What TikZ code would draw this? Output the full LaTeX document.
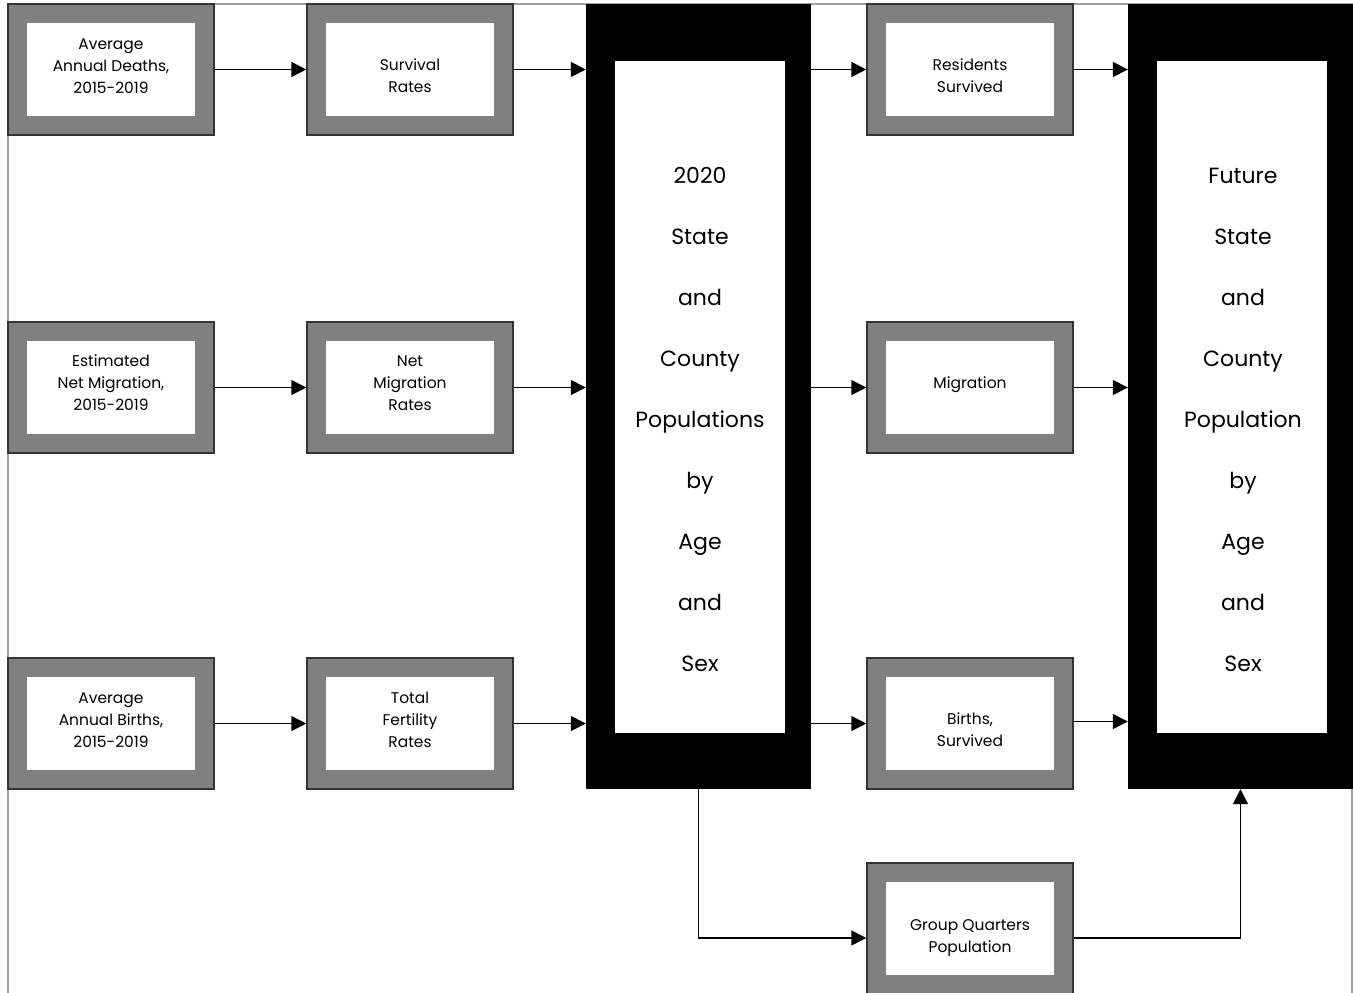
\documentclass[tikz,border=0pt]{standalone}
\usepackage{fontspec}
\setmainfont{Poppins}
\usetikzlibrary{arrows.meta}

\definecolor{frameline}{HTML}{A0A0A0}
\definecolor{boxrim}{HTML}{808080}
\tikzstyle{inputbox}=[rectangle, draw=black!80, line width=1.5pt, fill=boxrim,
  minimum width=206pt, minimum height=131pt, inner sep=0pt, align=center,
  font=\fontsize{15.5}{22}\selectfont,
  path picture={\fill[white] ([shift={(19pt,-19pt)}]path picture bounding box.north west)
    rectangle ([shift={(-19pt,19pt)}]path picture bounding box.south east);}]
\tikzstyle{popbox}=[rectangle, fill=black, minimum width=225pt, minimum height=785pt, inner sep=0pt,
  path picture={\fill[white] ([shift={(29pt,-57pt)}]path picture bounding box.north west)
    rectangle ([shift={(-26pt,56pt)}]path picture bounding box.south east);}]
\tikzstyle{poptext}=[align=center, font=\fontsize{22}{61}\selectfont]
\tikzstyle{flow}=[line width=1.5pt, -{Triangle[length=15pt, width=15pt]}]

% box text, lifted by #1 (the box keeps no height)
\newcommand{\boxlines}[2]{\raisebox{#1}[0pt][0pt]{\begin{tabular}{@{}c@{}}#2\end{tabular}}}

\begin{document}
\begin{tikzpicture}[x=1pt, y=-1pt]
      \useasboundingbox (0,0) rectangle (1353,993);
      \clip (0,0) rectangle (1353,993);
      \draw[frameline, line width=2pt] (8,1010) -- (8,4) -- (1352,4) -- (1352,1010);

      % input data
      \node (deaths) at (111,69.5) [inputbox] {\boxlines{-0.75pt}{Average\\Annual Deaths,\\2015-2019}};
      \node (netMig) at (111,387.5) [inputbox] {\boxlines{0pt}{Estimated\\Net Migration,\\2015-2019}};
      \node (births) at (111,723.5) [inputbox] {\boxlines{-1pt}{Average\\Annual Births,\\2015-2019}};

      % rates
      \node (survRates) at (410,69.5) [inputbox] {\boxlines{-11.5pt}{Survival\\Rates}};
      \node (migRates) at (410,387.5) [inputbox] {\boxlines{-0.5pt}{Net\\Migration\\Rates}};
      \node (fertRates) at (410,723.5) [inputbox] {\boxlines{-1pt}{Total\\Fertility\\Rates}};

      % base and future populations
      \node (basePop) at (698.5,396.5) [popbox] {};
      \node (basePopText) at (700,419) [poptext]
            {2020\\State\\and\\County\\Populations\\by\\Age\\and\\Sex};
      \node (futurePop) at (1240.5,396.5) [popbox] {};
      \node (futurePopText) at (1243,419.5) [poptext]
            {Future\\State\\and\\County\\Population\\by\\Age\\and\\Sex};

      % components
      \node (residents) at (970,69.5) [inputbox] {\boxlines{-11.5pt}{Residents\\Survived}};
      \node (migration) at (970,387.5) [inputbox] {\boxlines{0pt}{Migration}};
      \node (birthsSurv) at (970,723.5) [inputbox] {\boxlines{-11.5pt}{Births,\\Survived}};
      \node (groupQ) at (970,928.5) [inputbox] {\boxlines{-11.75pt}{Group Quarters\\Population}};

      \draw[flow] (deaths) -- (survRates);
      \draw[flow] (netMig) -- (migRates);
      \draw[flow] (births) -- (fertRates);
      \draw[flow] (survRates) -- (survRates -| basePop.west);
      \draw[flow] (migRates) -- (migRates -| basePop.west);
      \draw[flow] (fertRates) -- (fertRates -| basePop.west);
      \draw[flow] (residents -| basePop.east) -- (residents);
      \draw[flow] (migration -| basePop.east) -- (migration);
      \draw[flow] (birthsSurv -| basePop.east) -- (birthsSurv);
      \draw[flow] (residents) -- (residents -| futurePop.west);
      \draw[flow] (migration) -- (migration -| futurePop.west);
      \draw[flow] ([yshift=2pt]birthsSurv.east) -- ([yshift=2pt]birthsSurv.east -| futurePop.west);

      \coordinate (gqIn) at ([yshift=-9.5pt]groupQ.west);
      \coordinate (gqOut) at ([yshift=-9.5pt]groupQ.east);
      \draw[flow] (basePop.south) |- (gqIn);
      \draw[flow] (gqOut) -| (futurePop.south);
    \end{tikzpicture}
\end{document}
